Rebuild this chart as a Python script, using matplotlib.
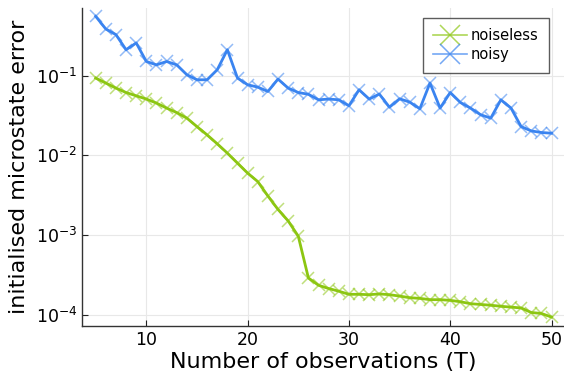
import numpy as np
import matplotlib
matplotlib.use("Agg")
import matplotlib.pyplot as plt
import matplotlib.ticker as mticker

# data (log-scale errors)
T = list(range(5, 51))
noiseless = [0.0935, 0.081, 0.070, 0.0616, 0.056, 0.051, 0.0454, 0.0393, 0.0345, 0.0294,
             0.023, 0.0181, 0.014, 0.0107, 0.0080, 0.0060, 0.0047, 0.0031, 0.0021, 0.00151,
             0.00097, 0.00029, 0.000235, 0.000214, 0.000198, 0.000181, 0.000181, 0.000179,
             0.000183, 0.000179, 0.000172, 0.000164, 0.000161, 0.000155, 0.000155, 0.000152,
             0.000146, 0.000138, 0.000135, 0.000132, 0.000128, 0.000125, 0.000122, 0.000107,
             0.000104, 0.0000937]
noisy = [0.557, 0.386, 0.328, 0.212, 0.258, 0.151, 0.137, 0.151, 0.137, 0.103,
         0.089, 0.089, 0.119, 0.212, 0.0935, 0.077, 0.072, 0.0635, 0.0908, 0.070,
         0.0616, 0.0585, 0.0499, 0.051, 0.0499, 0.042, 0.0667, 0.051, 0.0589, 0.0403,
         0.0514, 0.0467, 0.0385, 0.081, 0.0393, 0.0616, 0.0462, 0.0393, 0.0324, 0.0294,
         0.0499, 0.0393, 0.023, 0.0203, 0.0194, 0.019]

green = "#8cc611"
blue = "#3a84f0"

fig = plt.figure(figsize=(5.64, 3.82), dpi=100)
ax = fig.add_axes([82 / 564, 56 / 382, 1 - 82 / 564, (326 - 8) / 382])

for y, c, lab in [(noiseless, green, "noiseless"), (noisy, blue, "noisy")]:
    ax.plot(T, y, color=c, lw=2, zorder=3)
    ax.plot(T, y, ls="none", marker="x", ms=8.5, mew=1.1, color=c, alpha=0.55, zorder=3)
    ax.plot([], [], color=c, lw=1.2, marker="x", ms=14, mew=1.1, alpha=0.7, label=lab)

ax.set_yscale("log")
ax.set_xlim(3.65, 51.23)
ax.set_ylim(10 ** -4.14, 10 ** -0.15)
ax.set_xticks([10, 20, 30, 40, 50])
ax.yaxis.set_major_locator(mticker.FixedLocator([1e-4, 1e-3, 1e-2, 1e-1]))
ax.yaxis.set_minor_locator(mticker.NullLocator())
ax.tick_params(direction="in", length=4, width=0.8, labelsize=12.5, colors="#222222",
               labelcolor="black")
ax.grid(True, color="#e8e8e8", lw=0.8)
ax.set_axisbelow(True)
for s in ["top", "right"]:
    ax.spines[s].set_visible(False)
for s in ["left", "bottom"]:
    ax.spines[s].set_color("#333333")
    ax.spines[s].set_linewidth(1.0)

ax.set_xlabel("Number of observations (T)", fontsize=16, labelpad=2)
ax.set_ylabel("initialised microstate error", fontsize=16, labelpad=5)

leg = ax.legend(loc="upper right", bbox_to_anchor=(0.969, 0.969), borderaxespad=0,
                fontsize=10.5, frameon=True, fancybox=False, edgecolor="#333333",
                handlelength=2.3, handletextpad=0.3, borderpad=0.7, labelspacing=0.3)
leg.get_frame().set_linewidth(1.0)

fig.savefig("out.png", dpi=100)
